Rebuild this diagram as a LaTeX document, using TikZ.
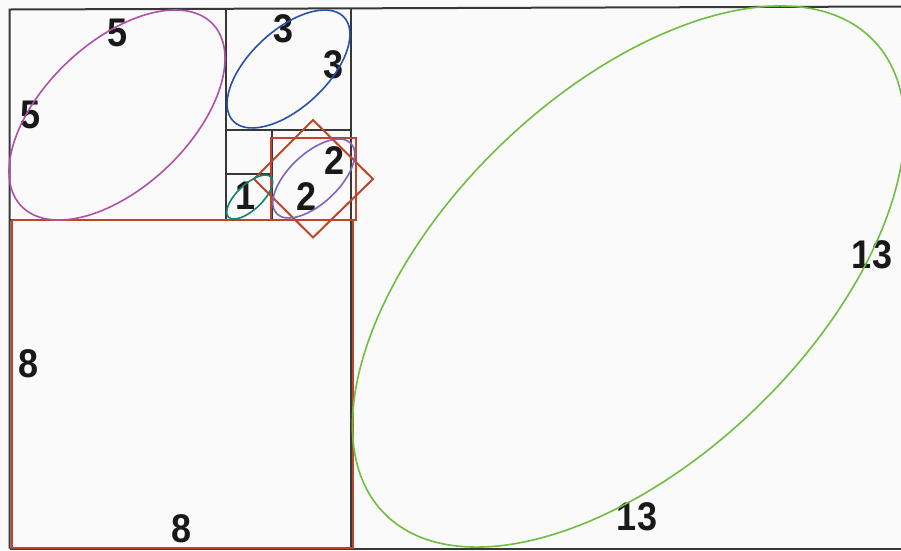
\documentclass[tikz,border=0pt]{standalone}
\usepackage{fontspec}
\setmainfont{Liberation Sans}
\definecolor{frame}{RGB}{55,55,55}
\definecolor{redbox}{RGB}{190,70,40}
\definecolor{ellmag}{RGB}{176,80,168}
\definecolor{ellblue}{RGB}{40,80,170}
\definecolor{ellteal}{RGB}{20,130,110}
\definecolor{ellpurp}{RGB}{128,100,190}
\definecolor{ellgreen}{RGB}{112,190,64}
\tikzset{
  frameline/.style={draw=frame,line width=2pt},
  redline/.style={draw=redbox,line width=2pt},
  ellline/.style={line width=1.6pt},
  numlabel/.style={font=\bfseries\fontsize{40}{40}\selectfont,inner sep=0pt,xscale=0.9,text=black!90}
}
\newcommand\fibell[7]{%
  \begin{scope}[shift={(#2,#3)},xscale=#4,yscale=#5]
    \draw[ellline,draw=#1,rotate=45] (0,0) ellipse [x radius=#6,y radius=#7];
  \end{scope}}
\begin{document}
\begin{tikzpicture}[x=1pt,y=-1pt]
\useasboundingbox (0,0) rectangle (901,550);
\fill[white!98!black] (0,0) rectangle (901,550);
% black squares
\draw[frameline] (9.5,548.5) -- (9.5,9.5) -- (901,6.5);
\draw[frameline] (9.5,548.5) -- (901,548.5);
\draw[frameline] (350.5,7.5) -- (350.5,548.5);
\draw[frameline] (9.5,219.5) -- (350.5,219.5);
\draw[frameline] (226,9.5) -- (226,219.5);
\draw[frameline] (226,129.5) -- (350.5,129.5);
\draw[frameline] (226,174) -- (271.5,174);
\draw[frameline] (271.5,129.5) -- (271.5,219.5);
% red outlines
\draw[redline] (12,220) rectangle (352.5,548);
\draw[redline] (270.5,137.5) rectangle (356,220);
\draw[redline] (313,120) -- (373,179) -- (313,237.5) -- (254,179) -- cycle;
% labels
\node[numlabel] (l5a) at (118,33) {5};
\node[numlabel] (l5b) at (31,115) {5};
\node[numlabel] (l3a) at (284,29) {3};
\node[numlabel] (l3b) at (334,65) {3};
\node[numlabel] (l2a) at (335,161) {2};
\node[numlabel] (l2b) at (306.5,197) {2};
\node[numlabel] (l1) at (246,196) {1};
\node[numlabel] (l8a) at (29,364) {8};
\node[numlabel] (l8b) at (182,529) {8};
\node[numlabel] (l13a) at (872,255) {13};
\node[numlabel] (l13b) at (637,517) {13};
% ellipses
\fibell{ellmag}{117}{115}{108}{105}{1.24}{0.68}
\fibell{ellblue}{288.5}{69}{61.5}{59}{1.26}{0.64}
\fibell{ellteal}{249.7}{197}{23}{22}{1.3}{0.56}
\fibell{ellpurp}{313.8}{178.5}{41}{39.5}{1.27}{0.62}
\fibell{ellgreen}{628.5}{276.5}{276}{270.5}{1.245}{0.671}
\end{tikzpicture}
\end{document}
